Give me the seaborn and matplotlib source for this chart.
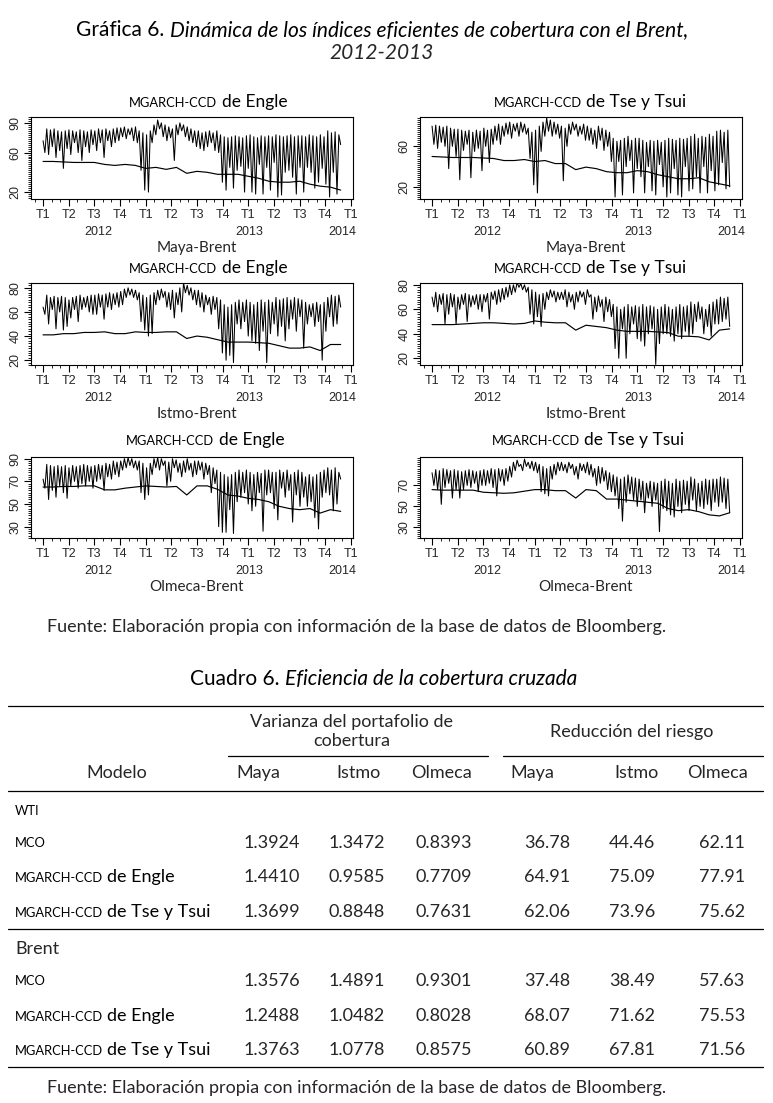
import numpy as np
import matplotlib
matplotlib.use("Agg")
import matplotlib.pyplot as plt
import seaborn as sns
from matplotlib.ticker import MultipleLocator
from matplotlib.offsetbox import TextArea, HPacker, AnnotationBbox
from matplotlib.lines import Line2D

# --- series; eje x: 0 = T1 2012 ... 12 = T1 final ---
maya_engle_osc = [
    72, 60, 84, 58, 83, 66, 84, 55, 82, 62, 81, 44, 82, 64,
    83, 58, 82, 70, 81, 60, 83, 52, 82, 66, 81, 60, 83, 68,
    82, 62, 84, 70, 83, 55, 84, 72, 82, 66, 84, 70, 85, 72,
    85, 76, 86, 74, 84, 78, 85, 72, 86, 70, 82, 42, 80, 22,
    78, 20, 82, 70, 88, 78, 93, 84, 90, 76, 88, 72, 86, 75,
    84, 52, 88, 78, 90, 82, 88, 76, 86, 72, 84, 70, 82, 66,
    82, 64, 80, 62, 81, 66, 82, 70, 80, 62, 82, 60, 78, 30,
    76, 22, 75, 45, 76, 24, 77, 42, 76, 46, 75, 20, 77, 44,
    78, 20, 76, 18, 75, 48, 77, 18, 76, 45, 77, 22, 76, 50,
    78, 15, 77, 17, 76, 40, 77, 42, 78, 35, 76, 18, 77, 45,
    77, 20, 76, 45, 78, 40, 77, 24, 76, 30, 78, 44, 76, 28,
    82, 15, 80, 40, 81, 18, 78, 68]
maya_engle_base = [51, 51, 50.5, 50, 50, 50, 48, 47, 48, 47, 44, 45, 43, 45, 39,
                   41, 40, 38, 38, 38, 36, 34, 31, 30, 30, 31, 28, 26, 25, 22]

maya_tse_osc = [
    80, 62, 81, 58, 80, 64, 79, 60, 80, 38, 78, 60, 77, 50,
    77, 27, 76, 56, 75, 62, 76, 29, 74, 55, 76, 58, 75, 36,
    78, 60, 76, 44, 77, 62, 80, 66, 82, 62, 80, 70, 83, 72,
    84, 68, 82, 75, 83, 70, 84, 74, 82, 72, 78, 48, 74, 22,
    76, 14, 80, 55, 84, 70, 88, 75, 86, 70, 84, 72, 82, 68,
    80, 26, 78, 60, 82, 72, 84, 76, 82, 70, 80, 72, 82, 66,
    80, 66, 78, 62, 76, 58, 80, 66, 78, 56, 76, 60, 74, 45,
    68, 10, 65, 45, 66, 12, 68, 40, 70, 46, 66, 14, 68, 38,
    68, 30, 66, 14, 64, 40, 66, 16, 65, 12, 66, 42, 64, 20,
    66, 10, 68, 14, 67, 38, 66, 12, 68, 10, 67, 40, 68, 16,
    70, 18, 72, 30, 68, 14, 70, 40, 69, 14, 72, 36, 70, 16,
    75, 22, 76, 44, 74, 18, 76, 20]
maya_tse_base = [50, 49.5, 49, 49, 49, 48.5, 48, 46, 46, 47, 45, 46, 43, 43, 37,
                 39.5, 38, 35, 34, 34, 36, 35, 32, 30, 28, 28, 29, 25, 23, 21]

istmo_engle_osc = [
    64, 58, 74, 50, 72, 62, 73, 46, 72, 60, 73, 45, 72, 48,
    70, 55, 72, 62, 73, 52, 74, 62, 72, 64, 73, 60, 74, 58,
    74, 58, 75, 64, 74, 54, 75, 64, 76, 62, 75, 66, 76, 64,
    77, 66, 79, 72, 80, 74, 79, 72, 78, 70, 76, 52, 74, 45,
    72, 40, 74, 42, 76, 66, 78, 70, 79, 72, 77, 64, 76, 62,
    78, 55, 76, 66, 80, 60, 84, 76, 82, 74, 80, 70, 78, 66,
    78, 64, 76, 60, 74, 66, 72, 58, 73, 62, 72, 46, 70, 26,
    66, 20, 64, 24, 66, 18, 68, 50, 70, 46, 68, 52, 70, 40,
    68, 36, 66, 34, 68, 28, 70, 44, 68, 18, 70, 42, 68, 50,
    72, 40, 70, 48, 71, 36, 72, 46, 70, 54, 72, 44, 71, 56,
    70, 30, 68, 50, 66, 56, 67, 48, 68, 52, 66, 20, 68, 44,
    72, 56, 74, 48, 73, 50, 74, 64]
istmo_engle_base = [41, 41, 42, 42, 43, 43, 43.5, 42, 42, 43.5, 43, 43, 43.5, 43.5, 38,
                    40, 39, 37, 35, 35, 35, 34.5, 34, 32, 30, 30, 31, 28, 33, 33]

istmo_tse_osc = [
    70, 62, 74, 58, 72, 64, 73, 48, 72, 56, 73, 62, 72, 48,
    70, 60, 72, 64, 73, 50, 72, 62, 71, 64, 72, 60, 72, 58,
    72, 66, 73, 52, 74, 68, 75, 64, 76, 66, 77, 68, 78, 70,
    80, 72, 80, 74, 82, 78, 81, 76, 80, 74, 78, 56, 76, 48,
    74, 54, 72, 46, 73, 60, 74, 68, 76, 70, 75, 66, 74, 68,
    74, 68, 76, 62, 74, 66, 72, 60, 74, 66, 75, 70, 74, 64,
    76, 70, 72, 52, 70, 58, 71, 62, 68, 50, 70, 58, 68, 54,
    64, 28, 62, 20, 60, 44, 62, 20, 64, 40, 62, 48, 63, 36,
    62, 34, 64, 30, 62, 40, 63, 44, 62, 15, 60, 32, 62, 40,
    64, 40, 62, 38, 60, 34, 62, 40, 64, 36, 62, 42, 63, 38,
    66, 40, 64, 50, 66, 52, 62, 40, 60, 46, 64, 38, 66, 48,
    68, 48, 70, 50, 69, 52, 70, 46]
istmo_tse_base = [47.5, 47.5, 47.5, 48, 48.5, 49, 49, 48.5, 48, 48.5, 50.5, 49.5, 49, 49, 43,
                  47, 46, 45, 43, 42, 42, 42, 41.5, 41, 38, 38, 37.5, 35, 43, 44]

olmeca_engle_osc = [
    72, 64, 85, 54, 84, 62, 83, 56, 84, 66, 83, 60, 84, 55,
    82, 66, 84, 70, 83, 64, 84, 68, 85, 66, 84, 70, 83, 64,
    84, 70, 85, 72, 84, 62, 86, 74, 85, 72, 88, 76, 87, 74,
    88, 80, 90, 82, 91, 84, 90, 82, 88, 80, 88, 60, 86, 54,
    82, 58, 86, 76, 90, 82, 91, 80, 90, 84, 88, 66, 87, 70,
    90, 82, 89, 78, 86, 74, 88, 78, 90, 80, 86, 74, 88, 76,
    88, 80, 87, 72, 86, 76, 84, 60, 82, 68, 80, 30, 78, 25,
    76, 25, 74, 45, 76, 24, 78, 52, 80, 56, 78, 60, 80, 50,
    78, 44, 76, 48, 78, 60, 77, 26, 80, 58, 80, 60, 78, 46,
    78, 36, 80, 64, 78, 56, 80, 62, 76, 34, 78, 58, 80, 48,
    78, 56, 74, 48, 76, 52, 74, 38, 76, 28, 78, 56, 80, 60,
    82, 58, 80, 44, 82, 50, 78, 72]
olmeca_engle_base = [65, 65, 65.5, 65.5, 66, 66, 62.5, 62.5, 64, 65, 66, 65.5, 65, 65.5, 58,
                     66, 66, 63, 58, 57, 55, 54, 52, 48, 46, 45, 46, 42, 45, 43.5]

olmeca_tse_osc = [
    82, 70, 85, 66, 84, 52, 86, 68, 85, 72, 84, 58, 85, 66,
    84, 58, 83, 66, 84, 70, 85, 68, 84, 72, 83, 64, 84, 70,
    85, 70, 84, 72, 86, 68, 85, 60, 86, 74, 85, 70, 86, 74,
    88, 78, 92, 84, 94, 88, 90, 84, 95, 88, 92, 86, 93, 84,
    92, 82, 90, 64, 88, 62, 86, 60, 88, 76, 90, 80, 92, 84,
    92, 84, 90, 82, 92, 86, 90, 80, 88, 76, 91, 84, 90, 82,
    92, 80, 90, 78, 86, 70, 88, 72, 87, 74, 84, 66, 82, 64,
    80, 60, 78, 48, 76, 36, 78, 54, 80, 62, 78, 56, 77, 50,
    76, 56, 74, 44, 72, 58, 74, 50, 73, 56, 72, 26, 74, 48,
    76, 46, 74, 42, 72, 40, 76, 50, 74, 44, 75, 52, 74, 46,
    78, 56, 76, 46, 72, 50, 74, 48, 76, 52, 75, 46, 76, 54,
    76, 50, 78, 54, 77, 48, 76, 44]
olmeca_tse_base = [66, 65.5, 65.5, 65.5, 65.5, 63.5, 63, 62.5, 63, 64.5, 66, 66, 65, 65, 58,
                   66, 65, 57, 57, 56, 55, 54, 53, 48, 46, 47, 45, 42, 41, 44]

x_labels = ["T1", "T2", "T3", "T4", "T1", "T2", "T3", "T4", "T1", "T2", "T3", "T4", "T1"]
years = ["2012", "2013", "2014"]
year_pos = [2.15, 8.05, 11.65]

# --- cuadro 6 ---
modelos = ["MCO", "de Engle", "de Tse y Tsui"]
crudos = ["Maya", "Istmo", "Olmeca"]
wti_varianza = [[1.3924, 1.3472, 0.8393], [1.4410, 0.9585, 0.7709], [1.3699, 0.8848, 0.7631]]
wti_reduccion = [[36.78, 44.46, 62.11], [64.91, 75.09, 77.91], [62.06, 73.96, 75.62]]
brent_varianza = [[1.3576, 1.4891, 0.9301], [1.2488, 1.0482, 0.8028], [1.3763, 1.0778, 0.8575]]
brent_reduccion = [[37.48, 38.49, 57.63], [68.07, 71.62, 75.53], [60.89, 67.81, 71.56]]

W, H = 773, 1103
sns.set_style("ticks")
plt.rcParams["font.family"] = ["Lato", "DejaVu Sans"]
TICKFONT = "Liberation Sans"
TITLE = 15
BODY = 13
SMALL = 9.3

fig = plt.figure(figsize=(W / 100, H / 100), dpi=100)
canvas = fig.add_axes([0, 0, 1, 1])
canvas.set_xlim(0, W)
canvas.set_ylim(H, 0)
canvas.axis("off")


def rich(x, y, parts, align=(0.5, 0.5), sep=3.5):
    # texto con tamanos / estilos mezclados (versalitas, cursiva)
    areas = [TextArea(t, textprops=dict(fontsize=s, fontstyle=st, color="black"))
             for t, s, st in parts]
    pack = HPacker(children=areas, align="baseline", pad=0, sep=sep)
    canvas.add_artist(AnnotationBbox(pack, (x, y), xycoords="data", frameon=False,
                                     box_alignment=align, pad=0))


# titulo
rich(382, 30, [("Gráfica 6.", TITLE, "normal"),
               ("Dinámica de los índices eficientes de cobertura con el Brent,", TITLE, "italic")],
     sep=4)
canvas.text(382, 53, "2012-2013", fontsize=TITLE, fontstyle="italic", ha="center", va="center")

panels = [
    ((31, 117, 353, 199), "de Engle", "Maya-Brent", maya_engle_osc, maya_engle_base, (13, 96), [20, 60, 90], 208, 102),
    ((420, 117, 742, 199), "de Tse y Tsui", "Maya-Brent", maya_tse_osc, maya_tse_base, (8, 89), [20, 60], 590, 102),
    ((31, 283, 353, 365), "de Engle", "Istmo-Brent", istmo_engle_osc, istmo_engle_base, (16, 84), [20, 40, 60, 80], 208, 268),
    ((420, 283, 742, 365), "de Tse y Tsui", "Istmo-Brent", istmo_tse_osc, istmo_tse_base, (14.5, 81.5), [20, 40, 60, 80], 590, 268),
    ((31, 457, 353, 538), "de Engle", "Olmeca-Brent", olmeca_engle_osc, olmeca_engle_base, (20, 91.5), [30, 50, 70, 90], 205, 440),
    ((420, 457, 742, 538), "de Tse y Tsui", "Olmeca-Brent", olmeca_tse_osc, olmeca_tse_base, (20, 97), [30, 50, 70], 588, 440),
]

for (x0, y0, x1, y1), modelo, par, osc, base, ylim, yt, tx, ty in panels:
    ax = fig.add_axes([x0 / W, 1 - y1 / H, (x1 - x0) / W, (y1 - y0) / H])
    sns.lineplot(x=np.linspace(0, 11.6, len(osc)), y=osc, ax=ax, color="black", linewidth=0.75)
    sns.lineplot(x=np.linspace(0, 11.6, len(base)), y=base, ax=ax, color="black", linewidth=0.85)
    ax.set_xlim(-0.47, 12.08)
    ax.set_ylim(*ylim)
    ax.set_xticks(range(13))
    ax.set_xticklabels(x_labels, fontfamily=TICKFONT, fontsize=9)
    ax.xaxis.set_minor_locator(MultipleLocator(1 / 3))
    ax.set_yticks(yt)
    ax.set_yticklabels([str(v) for v in yt], rotation=90, va="center", fontfamily=TICKFONT, fontsize=9)
    ax.yaxis.set_minor_locator(MultipleLocator(2))
    ax.tick_params(which="major", length=5, width=0.8, pad=2, color="black")
    ax.tick_params(which="minor", length=2.5, width=0.6, color="black")
    for s in ax.spines.values():
        s.set_linewidth(0.8)
        s.set_color("black")
    ax.set_xlabel("")
    ax.set_ylabel("")
    for yr, xp in zip(years, year_pos):
        ax.annotate(yr, xy=(xp, 0), xycoords=("data", "axes fraction"), xytext=(0, -24),
                    textcoords="offset points", ha="center", va="center",
                    fontfamily=TICKFONT, fontsize=9)
    ax.annotate(par, xy=(0.515, 0), xycoords="axes fraction", xytext=(0, -35),
                textcoords="offset points", ha="center", va="center", fontsize=11)
    rich(tx, ty, [("MGARCH-CCD", 9.3, "normal"), (modelo, 12.5, "normal")])

fuente = "Fuente: Elaboración propia con información de la base de datos de Bloomberg."
canvas.text(47, 627, fuente, fontsize=BODY, ha="left", va="center")

# --- cuadro ---
rich(384, 679, [("Cuadro 6.", TITLE, "normal"), ("Eficiencia de la cobertura cruzada", TITLE, "italic")],
     sep=4)


def rule(xa, xb, y, lw=0.9):
    canvas.add_artist(Line2D([xa, xb], [y, y], color="black", linewidth=lw))


rule(8, 763, 706)
rule(228, 488, 756)
rule(503, 763, 756)
rule(8, 763, 791)
rule(8, 763, 929)
rule(8, 763, 1067)

canvas.text(352, 722, "Varianza del portafolio de", fontsize=BODY, ha="center", va="center")
canvas.text(352, 741, "cobertura", fontsize=BODY, ha="center", va="center")
canvas.text(632, 732, "Reducción del riesgo", fontsize=BODY, ha="center", va="center")
canvas.text(117, 773, "Modelo", fontsize=BODY, ha="center", va="center")
col_centers = [258, 358, 442, 532, 637, 717]
col_right = [300, 385, 472, 570, 655, 745]
for c, name in zip(col_centers, crudos + crudos):
    canvas.text(c, 773, name, fontsize=BODY, ha="center", va="center")

bloques = [
    ("WTI", True, 811, [843, 877, 912], wti_varianza, wti_reduccion),
    ("Brent", False, 949, [981, 1016, 1050], brent_varianza, brent_reduccion),
]
for nombre, caps, yb, ys, var, red in bloques:
    if caps:
        rich(15, yb, [(nombre, SMALL, "normal")], align=(0, 0.5))
    else:
        canvas.text(15, yb, nombre, fontsize=BODY, ha="left", va="center")
    for i, y in enumerate(ys):
        if i == 0:
            rich(15, y, [(modelos[i], SMALL, "normal")], align=(0, 0.5))
        else:
            rich(15, y, [("MGARCH-CCD", SMALL, "normal"), (modelos[i], BODY, "normal")],
                 align=(0, 0.5), sep=3)
        vals = [f"{v:.4f}" for v in var[i]] + [f"{v:.2f}" for v in red[i]]
        for xr, txt in zip(col_right, vals):
            canvas.text(xr, y, txt, fontsize=BODY, ha="right", va="center")

canvas.text(47, 1088, fuente, fontsize=BODY, ha="left", va="center")

fig.savefig("out.png", dpi=100)
